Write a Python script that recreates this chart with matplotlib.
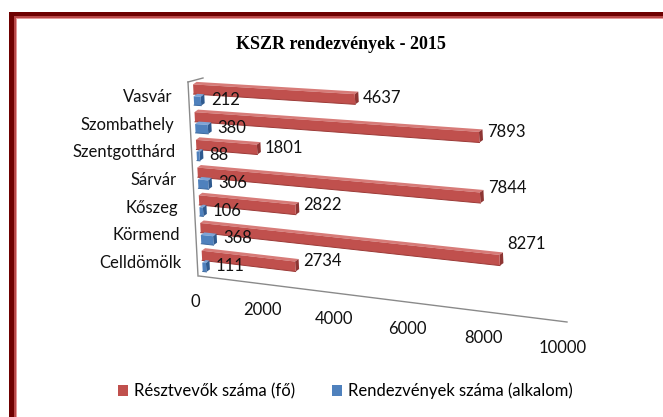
import numpy as np
import matplotlib
matplotlib.use('Agg')
import matplotlib.pyplot as plt
from matplotlib.patches import Patch, Rectangle

# data (bottom row first)
towns = ['Celldömölk', 'Körmend', 'Kőszeg', 'Sárvár', 'Szentgotthárd', 'Szombathely', 'Vasvár']
participants = [2734, 8271, 2822, 7844, 1801, 7893, 4637]
events = [111, 368, 106, 306, 88, 380, 212]
series_names = ['Résztvevők száma (fő)', 'Rendezvények száma (alkalom)']
value_ticks = [0, 2000, 4000, 6000, 8000, 10000]
vmax = 10000

W, H = 663, 417
red, red_top, red_end = '#c0504d', '#d77b78', '#8e3533'
blue, blue_top, blue_end = '#4f81bd', '#7ea4d6', '#2f5a8f'
label_font = 'Lato'
fs = 12

fig = plt.figure(figsize=(W / 100, H / 100), dpi=100)
ax = fig.add_axes([0, 0, 1, 1])
ax.set_xlim(0, W)
ax.set_ylim(H, 0)
ax.axis('off')

# perspective plane: value axis runs down-right, rows stacked upwards
n = len(towns)
x_bottom, x_top = 203, 193
y00, y01, y10, y11 = 277, 83, 323, 105
k0, k1 = 332, 36


def proj(v, u):
    s = np.asarray(v, float) / vmax
    t = np.asarray(u, float) / n
    fx = k0 * s + k1 * s ** 2
    sx = fx / (k0 + k1)
    x = x_bottom + (x_top - x_bottom) * t + fx
    y = (1 - t) * ((1 - sx) * y00 + sx * y10) + t * ((1 - sx) * y01 + sx * y11)
    return np.column_stack([np.atleast_1d(x), np.atleast_1d(y)])


depth = np.array([3.5, -2.5])


def bar3d(val, lo, hi, c_front, c_top, c_end, c_edge):
    f = proj([0, val, val, 0], [lo, lo, hi, hi])
    b = f + depth
    ax.fill(*np.vstack([f[3], f[2], b[2], b[3]]).T, color=c_top, lw=0, zorder=3)
    ax.fill(*np.vstack([f[1], f[2], b[2], b[1]]).T, color=c_end, lw=0, zorder=3)
    ax.fill(*f.T, color=c_front, lw=0, zorder=3)
    ax.plot(*f[[0, 1]].T, color=c_edge, lw=0.7, zorder=3)
    return f[1] + np.array([depth[0], 0])


# wall / floor lines
wall = proj([0, 0], [n, 0]) + np.array([-5, -1])
ax.plot(*wall.T, color='#8a8a8a', lw=1, zorder=1)
ax.plot([wall[0, 0], wall[0, 0] + 15], [wall[0, 1], wall[0, 1] - 4], color='#8a8a8a', lw=1, zorder=1)
floor = proj([0, vmax], [0, 0]) + np.array([-4, -1])
ax.plot(*floor.T, color='#8a8a8a', lw=1, zorder=1)

for i in range(n - 1, -1, -1):
    yc = proj(0, i + 0.5)[0]
    ax.text(yc[0] - 21, yc[1], towns[i], ha='right', va='center', fontsize=fs,
            family=label_font, color='#111111')
    end_r = bar3d(participants[i], i + 0.60, i + 0.95, red, red_top, red_end, '#9c3a37')
    end_b = bar3d(events[i], i + 0.20, i + 0.52, blue, blue_top, blue_end, '#3d6aa0')
    s = participants[i] / vmax
    ax.text(end_r[0] + 4, yc[1] - 8 + 20 * s, str(participants[i]), ha='left', va='center',
            fontsize=fs, family=label_font, color='#111111', zorder=4)
    ax.text(end_b[0] + 6, yc[1] + 3, str(events[i]), ha='left', va='center',
            fontsize=fs, family=label_font, color='#111111', zorder=4)

for v in value_ticks:
    p = proj(v, 0)[0]
    ax.text(p[0] - 8, p[1] + 25, str(v), ha='center', va='center', fontsize=fs,
            family=label_font, color='#111111')

ax.text(341, 44, 'KSZR rendezvények - 2015', ha='center', va='center', fontsize=13,
        family='Liberation Serif', weight='bold', color='black')

handles = [Patch(facecolor=red, edgecolor='none'), Patch(facecolor=blue, edgecolor='none')]
ax.legend(handles, series_names, loc='center', bbox_to_anchor=(345, 391),
          bbox_transform=ax.transData, ncol=2, frameon=False,
          prop={'family': label_font, 'size': fs},
          handlelength=0.62, handleheight=0.62, handletextpad=0.35, columnspacing=2.2)

# dark red frame (top and left)
ax.add_patch(Rectangle((9, 12), W, 4, color='#6e0000', lw=0, zorder=5))
ax.add_patch(Rectangle((9, 12), 5, H, color='#6e0000', lw=0, zorder=5))
ax.add_patch(Rectangle((14, 16), W, 1.5, color='#b84848', lw=0, zorder=5))
ax.add_patch(Rectangle((14, 16), 1.5, H, color='#b84848', lw=0, zorder=5))
ax.add_patch(Rectangle((15.5, 17.5), W, 1.5, color='#e59a9a', lw=0, zorder=5))
ax.add_patch(Rectangle((15.5, 17.5), 1.5, H, color='#e59a9a', lw=0, zorder=5))

fig.savefig('out.png', dpi=100)
